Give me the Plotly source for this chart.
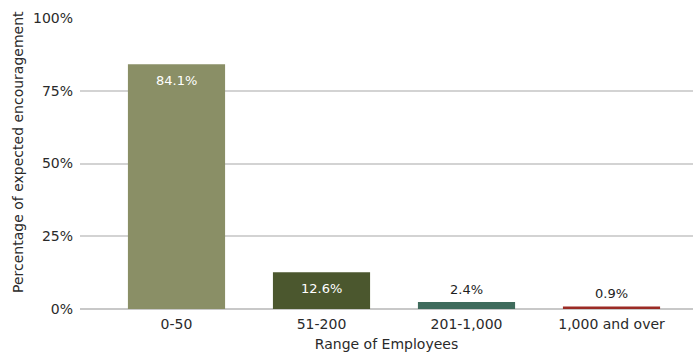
import plotly.graph_objects as go

categories = ["0-50", "51-200", "201-1,000", "1,000 and over"]
values = [84.1, 12.6, 2.4, 0.9]
labels = ["84.1%", "12.6%", "2.4%", "0.9%"]
colors = ["#8A8F66", "#4B572E", "#3F6B5C", "#9B2B25"]
inside = [True, True, False, False]

FONT = "DejaVu Sans, sans-serif"
TXT = "#2A2A2A"
FS = 14

xs = list(range(len(categories)))
fig = go.Figure(go.Bar(
    x=xs,
    y=values,
    marker=dict(color=colors, line=dict(width=0)),
    width=0.67,
    cliponaxis=False,
))
for xv, v, lab, ins in zip(xs, values, labels, inside):
    fig.add_annotation(
        x=xv, y=v, xref="x", yref="y", text=lab, showarrow=False,
        yanchor="middle", yshift=(-16 if ins else 13),
        font=dict(color=("#FFFFFF" if ins else "#1E1E1E"), size=13, family=FONT),
    )

fig.update_layout(
    width=696, height=354,
    margin=dict(l=80, r=3, t=18, b=45),
    paper_bgcolor="white", plot_bgcolor="white",
    font=dict(family=FONT, color=TXT, size=FS),
    showlegend=False,
)
fig.add_annotation(
    text="Percentage of expected encouragement",
    xref="paper", yref="paper", x=-0.101, y=0.54,
    xanchor="center", yanchor="middle", textangle=-90,
    showarrow=False, font=dict(size=FS, color=TXT, family=FONT),
)
fig.update_xaxes(
    range=[-0.6655, 3.5620],
    tickmode="array",
    tickvals=xs,
    ticktext=categories,
    showgrid=False, zeroline=False, showline=False,
    ticks="", ticklabelstandoff=5,
    tickfont=dict(size=FS, color=TXT),
    title=dict(text="Range of Employees", font=dict(size=FS, color=TXT), standoff=8),
)
fig.update_yaxes(
    range=[0, 100],
    tickvals=[0, 25, 50, 75, 100],
    ticktext=["0%", "25%", "50%", "75%", "100%"],
    showgrid=True, gridcolor="#D3D3D3", gridwidth=1.5,
    zeroline=True, zerolinecolor="#C8C8C8", zerolinewidth=1.5,
    showline=False, ticks="", ticklabelstandoff=6,
    tickfont=dict(size=FS, color=TXT),
)

fig.write_html("out.html")
